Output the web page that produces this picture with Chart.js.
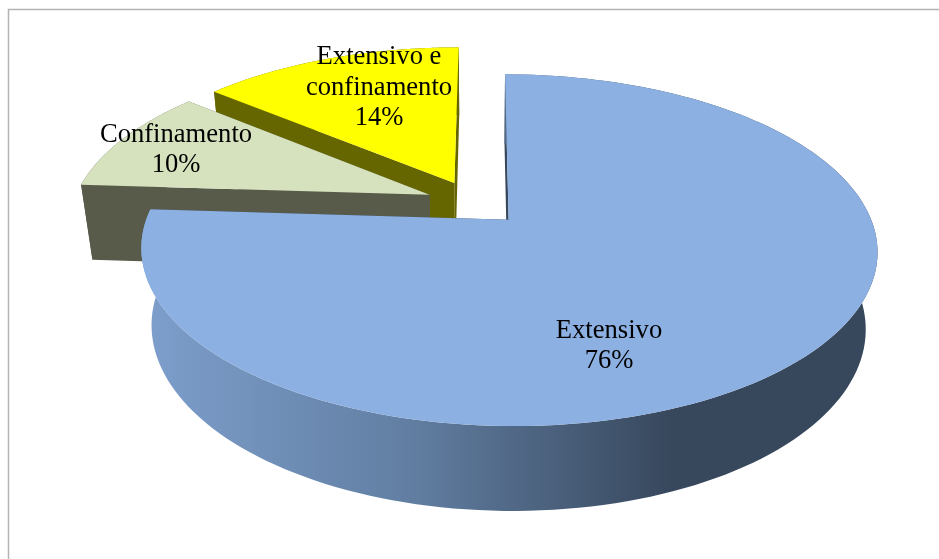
<!DOCTYPE html>
<html>
<head>
<meta charset="utf-8">
<style>
  html, body { margin: 0; padding: 0; background: #fff; overflow: hidden; }
  canvas { display: block; }
</style>
<script src="https://cdn.jsdelivr.net/npm/chart.js@4/dist/chart.umd.min.js"></script>
</head>
<body>
<canvas id="pie" width="939" height="559"></canvas>
<script>
// Share of production systems
const categories = ['Extensivo', 'Confinamento', 'Extensivo e confinamento'];
const shares = [76, 10, 14];
const labelLines = [['Extensivo'], ['Confinamento'], ['Extensivo e', 'confinamento']];

const topColors = ['#8cb0e1', '#d6e2bd', '#ffff00'];
const wallColors = ['#37475c', '#585a4a', '#666600'];
const labelCentres = [[609, 346], [176, 150], [379, 88]];
const paintOrder = [2, 1, 0];

// Perspective camera that maps the flat disc onto the tilted view.
const view = {
  apexX: 511, apexY: 221,    // pixel where the disc origin lands
  vanishX: 484,              // x the vertical edges converge towards
  radiusX: 363, radiusY: 171,
  tilt: 0.173,               // foreshortening along the depth axis
  depth: 79,                 // height of the extruded wall
  recede: 0.03,              // shrink of the lower rim
  originU: -0.1006, originV: -0.1072
};

function project(u, v, h) {
  const U = u + view.originU, V = v + view.originV;
  const w = 1 - view.tilt * V + view.recede * h;
  return [
    view.vanishX + (view.apexX - view.vanishX + view.radiusX * U) / w,
    view.apexY + (view.radiusY * V + view.depth * h) / w
  ];
}

function arcPoints(arc, explode, h, forward) {
  const mid = (arc.startAngle + arc.endAngle) / 2;
  const ou = explode * Math.cos(mid), ov = explode * Math.sin(mid);
  const steps = 160, pts = [];
  for (let i = 0; i <= steps; i++) {
    const t = forward ? i / steps : 1 - i / steps;
    const a = arc.startAngle + (arc.endAngle - arc.startAngle) * t;
    pts.push(project(ou + Math.cos(a), ov + Math.sin(a), h));
  }
  return pts;
}

function apexPoint(arc, explode, h) {
  const mid = (arc.startAngle + arc.endAngle) / 2;
  return project(explode * Math.cos(mid), explode * Math.sin(mid), h);
}

function fillPolygon(ctx, pts, fill) {
  ctx.beginPath();
  pts.forEach((p, i) => i ? ctx.lineTo(p[0], p[1]) : ctx.moveTo(p[0], p[1]));
  ctx.closePath();
  ctx.fillStyle = fill;
  ctx.fill();
}

const solidPie = {
  id: 'solidPie',
  beforeDraw(chart) {
    // Frame lines along the top and left of the chart area
    const ctx = chart.ctx;
    ctx.save();
    ctx.strokeStyle = '#b4b4b4';
    ctx.lineWidth = 1.5;
    ctx.beginPath();
    ctx.moveTo(8.5, 559);
    ctx.lineTo(8.5, 9.5);
    ctx.lineTo(939, 9.5);
    ctx.stroke();
    ctx.restore();
  },
  beforeDatasetsDraw(chart) {
    const ctx = chart.ctx;
    const arcs = chart.getDatasetMeta(0).data;

    const rim = ctx.createLinearGradient(150, 0, 880, 0);
    rim.addColorStop(0, '#7d9ecb');
    rim.addColorStop(0.35, '#627f a3'.replace(' ', ''));
    rim.addColorStop(0.72, '#37475c');
    rim.addColorStop(1, '#37475c');

    paintOrder.forEach(i => {
      const arc = arcs[i];
      const explode = arc.options.offset / arc.outerRadius;
      const top = arcPoints(arc, explode, 0, true);
      const low = arcPoints(arc, explode, 1, false);
      const apexTop = apexPoint(arc, explode, 0);
      const apexLow = apexPoint(arc, explode, 1);
      const wall = i === 0 ? rim : wallColors[i];

      // Flat cut faces, then the curved rim, then the top face
      fillPolygon(ctx, [apexTop, top[0], low[low.length - 1], apexLow], wallColors[i]);
      fillPolygon(ctx, [apexTop, top[top.length - 1], low[0], apexLow], wallColors[i]);
      fillPolygon(ctx, top.concat(low), wall);
      fillPolygon(ctx, [apexTop].concat(top), topColors[i]);
    });

    // Slice captions
    ctx.save();
    ctx.fillStyle = '#000';
    ctx.font = '26.6px "Liberation Serif"';
    ctx.textAlign = 'center';
    ctx.textBaseline = 'middle';
    arcs.forEach((arc, i) => {
      const lines = labelLines[i].concat(shares[i] + '%');
      const first = labelCentres[i][1] - (lines.length - 1) * 15.25;
      lines.forEach((text, n) => ctx.fillText(text, labelCentres[i][0], first + n * 30.5));
    });
    ctx.restore();
    return false;
  }
};

new Chart(document.getElementById('pie'), {
  type: 'pie',
  data: {
    labels: categories,
    datasets: [{ data: shares, backgroundColor: topColors, borderWidth: 0, offset: 36 }]
  },
  options: {
    responsive: false,
    animation: false,
    plugins: { legend: { display: false }, tooltip: { enabled: false } }
  },
  plugins: [solidPie]
});
</script>
</body>
</html>
